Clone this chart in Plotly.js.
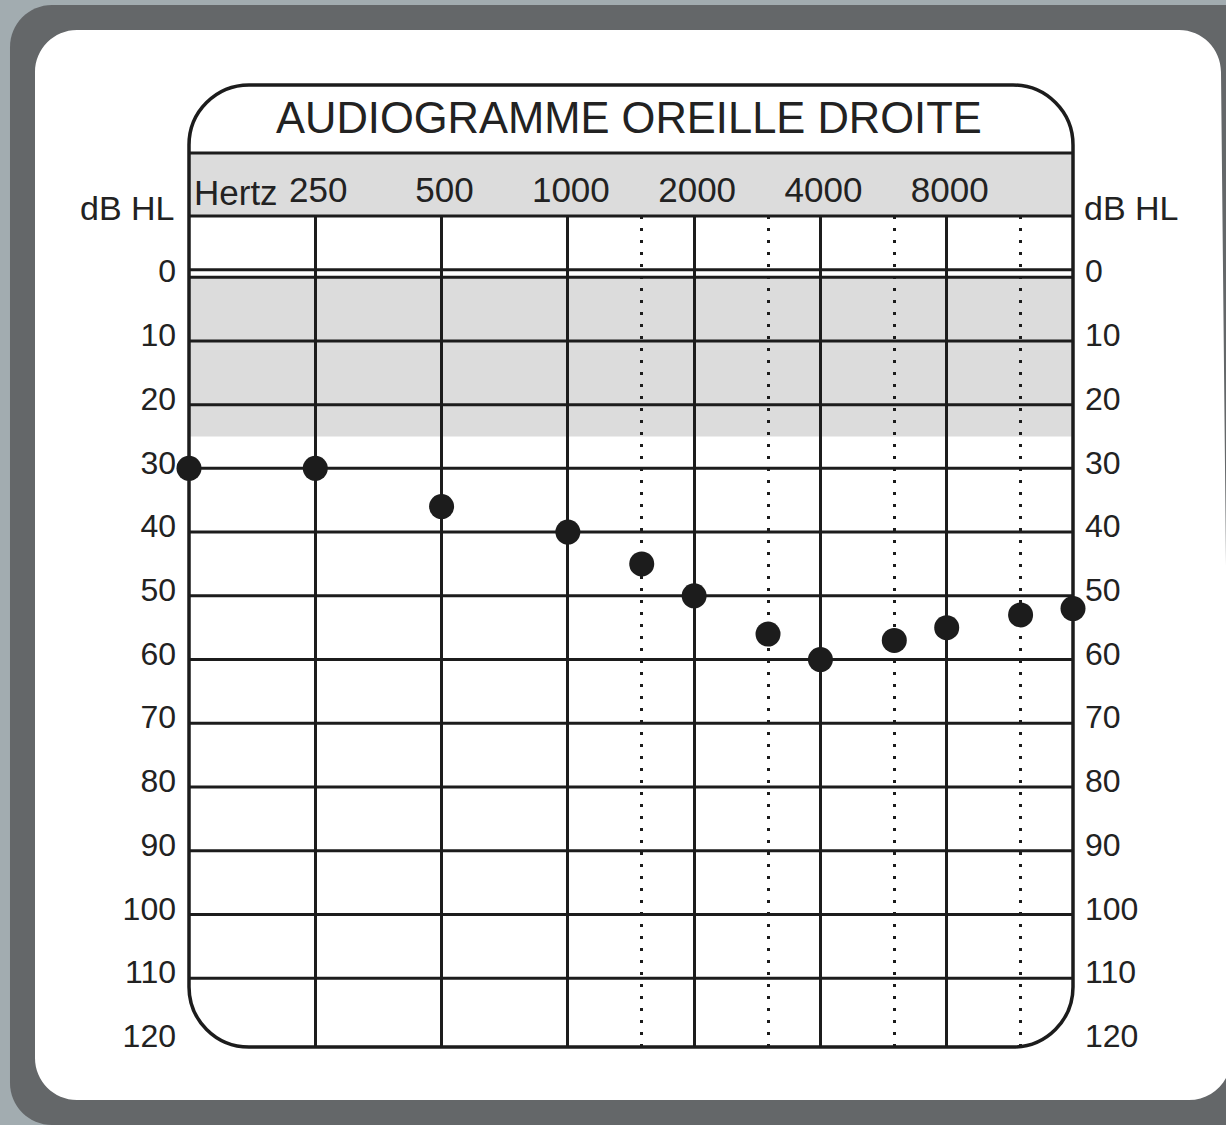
<!DOCTYPE html>
<html>
<head>
<meta charset="utf-8">
<script src="https://cdn.plot.ly/plotly-3.0.1.min.js"></script>
<style>html,body{margin:0;padding:0;background:#a2acb0;overflow:hidden}</style>
</head>
<body>
<div id="chart" style="width:1226px;height:1125px"></div>
<script>
// ---- data ----
const chartTitle = 'AUDIOGRAMME OREILLE DROITE';
const frequencies = [125, 250, 500, 1000, 1500, 2000, 3000, 4000, 6000, 8000, 12000, 16000];
const thresholdsDb = [30, 30, 36, 40, 45, 50, 56, 60, 57, 55, 53, 52];
const octaveFreqs = [250, 500, 1000, 2000, 4000, 8000];
const octaveLabels = ['250', '500', '1000', '2000', '4000', '8000'];
const halfOctaveFreqs = [1500, 3000, 6000, 12000];
const dbTicks = [0, 10, 20, 30, 40, 50, 60, 70, 80, 90, 100, 110, 120];
const dbTickLabels = ['0', '10', '20', '30', '40', '50', '60', '70', '80', '90', '100', '110', '120'];
const dbGridLines = [0, 10, 20, 30, 40, 50, 60, 70, 80, 90, 100, 110];
const normalRangeDb = [0, 25];
const freqRange = [125, 16000];
const dbRange = [120.8, -9.6];

// ---- geometry helpers (decoration only) ----
const W = 1226, H = 1125, L = 189, R = 1073, T = 216, B = 1047;
const fx = p => (p - L) / (R - L);
const fy = p => (B - p) / (B - T);
function roundRect(x0, y0, x1, y1, r, x1b) {
  if (x1b === undefined) x1b = x1;
  const k = 0.5523 * r;
  const P = (x, y) => fx(x).toFixed(5) + ',' + fy(y).toFixed(5);
  return 'M' + P(x0 + r, y0) + ' L' + P(x1 - r, y0) +
    ' C' + P(x1 - r + k, y0) + ' ' + P(x1, y0 + r - k) + ' ' + P(x1, y0 + r) +
    ' L' + P(x1b, y1 - r) +
    ' C' + P(x1b, y1 - r + k) + ' ' + P(x1b - r + k, y1) + ' ' + P(x1b - r, y1) +
    ' L' + P(x0 + r, y1) +
    ' C' + P(x0 + r - k, y1) + ' ' + P(x0, y1 - r + k) + ' ' + P(x0, y1 - r) +
    ' L' + P(x0, y0 + r) +
    ' C' + P(x0, y0 + r - k) + ' ' + P(x0 + r - k, y0) + ' ' + P(x0 + r, y0) + ' Z';
}

const INK = '#1c1c1c';
const FONT = 'Liberation Sans, Arial, Helvetica, sans-serif';

const shapes = [];
// dark outer band and white panel
shapes.push({type: 'path', xref: 'paper', yref: 'paper', layer: 'below', path: roundRect(10, 5, 1270, 1125, 42), fillcolor: '#646769', line: {width: 0}});
shapes.push({type: 'path', xref: 'paper', yref: 'paper', layer: 'below', path: roundRect(35, 30, 1221, 1100, 42, 1231), fillcolor: '#ffffff', line: {width: 0}});
// header band
shapes.push({type: 'rect', xref: 'paper', yref: 'paper', layer: 'below', x0: 0, x1: 1, y0: 1, y1: fy(153), fillcolor: '#dcdcdc', line: {width: 0}});
// normal hearing band
shapes.push({type: 'rect', xref: 'paper', yref: 'y', layer: 'below', x0: 0, x1: 1, y0: normalRangeDb[0], y1: normalRangeDb[1], fillcolor: '#dcdcdc', line: {width: 0}});
// horizontal dB lines
dbGridLines.forEach(v => shapes.push({type: 'line', xref: 'paper', yref: 'y', layer: 'below', x0: 0, x1: 1, y0: v, y1: v, line: {color: INK, width: 3}}));
// second line of the double 0 line
shapes.push({type: 'line', xref: 'paper', yref: 'y', layer: 'below', x0: 0, x1: 1, y0: -1.15, y1: -1.15, line: {color: INK, width: 3}});
// header lines
shapes.push({type: 'line', xref: 'paper', yref: 'paper', layer: 'below', x0: 0, x1: 1, y0: 1, y1: 1, line: {color: INK, width: 3}});
shapes.push({type: 'line', xref: 'paper', yref: 'paper', layer: 'below', x0: 0, x1: 1, y0: fy(153), y1: fy(153), line: {color: INK, width: 3}});
// rounded chart frame
shapes.push({type: 'path', xref: 'paper', yref: 'paper', layer: 'below', path: roundRect(L, 85, R, B, 60), line: {color: INK, width: 3.5}});

const annotations = [
  {text: chartTitle, xref: 'paper', yref: 'paper', x: fx((L + R) / 2 - 2), y: fy(118), xanchor: 'center', yanchor: 'middle', showarrow: false, font: {family: FONT, size: 43.5, color: '#222'}},
  {text: 'Hertz', xref: 'paper', yref: 'paper', x: fx(192), y: fy(192), xanchor: 'left', yanchor: 'middle', showarrow: false, font: {family: FONT, size: 35, color: '#222'}},
  {text: 'dB HL', xref: 'paper', yref: 'paper', x: fx(177), y: fy(208), xanchor: 'right', yanchor: 'middle', showarrow: false, font: {family: FONT, size: 34, color: '#222'}},
  {text: 'dB HL', xref: 'paper', yref: 'paper', x: fx(1082), y: fy(208), xanchor: 'left', yanchor: 'middle', showarrow: false, font: {family: FONT, size: 34, color: '#222'}}
];

const logRange = [Math.log10(freqRange[0]), Math.log10(freqRange[1])];

const traces = [
  {x: frequencies, y: thresholdsDb, type: 'scatter', mode: 'markers', cliponaxis: false,
   marker: {size: 25, color: INK, line: {width: 0}}, hoverinfo: 'x+y', showlegend: false},
  {x: halfOctaveFreqs, y: halfOctaveFreqs.map(() => null), xaxis: 'x2', yaxis: 'y', type: 'scatter', mode: 'lines', showlegend: false, hoverinfo: 'skip'},
  {x: octaveFreqs, y: octaveFreqs.map(() => null), xaxis: 'x', yaxis: 'y2', type: 'scatter', mode: 'lines', showlegend: false, hoverinfo: 'skip'}
];

const yTickFont = {family: FONT, size: 32, color: '#222'};

const layout = {
  width: W, height: H, autosize: false,
  margin: {l: L, r: W - R, t: T, b: H - B, pad: 0},
  paper_bgcolor: '#a2acb0', plot_bgcolor: 'rgba(0,0,0,0)',
  showlegend: false,
  xaxis: {type: 'log', range: logRange, side: 'top', tickmode: 'array', tickvals: octaveFreqs, ticktext: octaveLabels,
          showgrid: true, gridcolor: INK, gridwidth: 3, zeroline: false, showline: false, ticks: '',
          ticklabelstandoff: 6, ticklabelshift: 3, tickfont: {family: FONT, size: 35, color: '#222'}, fixedrange: true},
  xaxis2: {type: 'log', range: logRange, overlaying: 'x', side: 'top', tickmode: 'array', tickvals: halfOctaveFreqs,
           showticklabels: false, showgrid: true, gridcolor: INK, gridwidth: 3, griddash: '3px,9px', zeroline: false, showline: false, ticks: '', fixedrange: true},
  yaxis: {range: dbRange, tickmode: 'array', tickvals: dbTicks, ticktext: dbTickLabels, showgrid: false, zeroline: false, showline: false,
          ticks: '', ticklabelstandoff: 12, ticklabelshift: 6, tickfont: yTickFont, fixedrange: true},
  yaxis2: {range: dbRange, overlaying: 'y', side: 'right', tickmode: 'array', tickvals: dbTicks, ticktext: dbTickLabels, showgrid: false, zeroline: false, showline: false,
           ticks: '', ticklabelstandoff: 11, ticklabelshift: 6, tickfont: yTickFont, fixedrange: true},
  shapes: shapes,
  annotations: annotations
};

Plotly.newPlot('chart', traces, layout, {displayModeBar: false, staticPlot: true});
</script>
</body>
</html>
